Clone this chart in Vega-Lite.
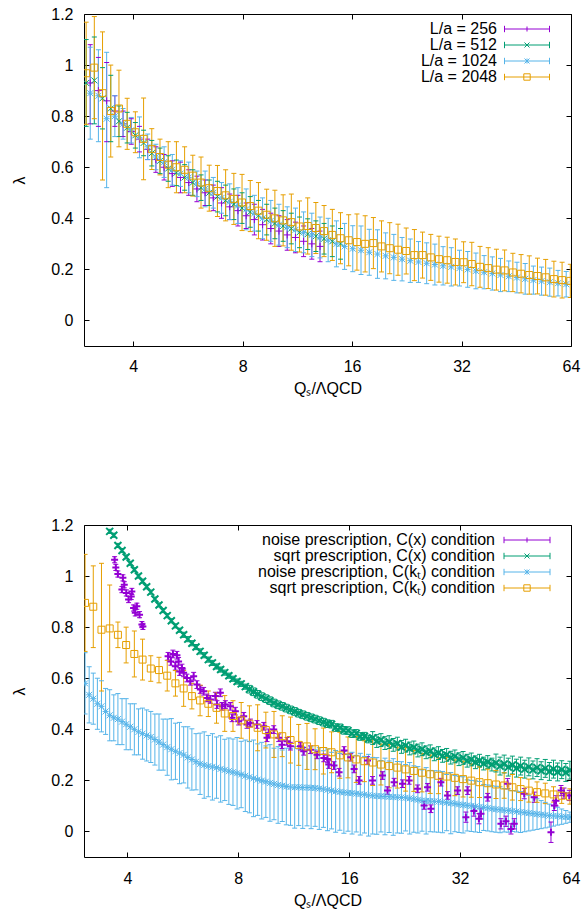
{
"$schema": "https://vega.github.io/schema/vega-lite/v6.json",
"padding": {"left": 11, "top": 5, "right": 0, "bottom": 0},
"config": {
 "font": "Liberation Sans",
 "view": {"stroke": "#000", "strokeWidth": 1},
 "axis": {"labelFontSize": 16, "titleFontSize": 16, "labelColor": "#000", "titleColor": "#000", "titleFontWeight": "normal", "tickColor": "#000", "tickSize": -5, "tickWidth": 1, "domain": false, "grid": false, "labelFlush": false, "labelFont": "Liberation Sans", "titleFont": "Liberation Sans"}
},
"datasets": {
"top": [
{"s":"a","q":3.048,"y":0.93,"l":0.77,"h":1.08},
{"s":"a","q":3.21,"y":0.9,"l":0.76,"h":1.03},
{"s":"a","q":3.382,"y":0.86,"l":0.7,"h":1.01},
{"s":"a","q":3.562,"y":0.82,"l":0.76,"h":0.88},
{"s":"a","q":3.752,"y":0.77,"l":0.72,"h":0.82},
{"s":"a","q":3.952,"y":0.74,"l":0.69,"h":0.79},
{"s":"a","q":4.163,"y":0.71,"l":0.66,"h":0.76},
{"s":"a","q":4.385,"y":0.67,"l":0.63,"h":0.71},
{"s":"a","q":4.619,"y":0.63,"l":0.58,"h":0.68},
{"s":"a","q":4.866,"y":0.6,"l":0.55,"h":0.65},
{"s":"a","q":5.125,"y":0.575,"l":0.525,"h":0.625},
{"s":"a","q":5.398,"y":0.56,"l":0.5,"h":0.62},
{"s":"a","q":5.687,"y":0.54,"l":0.49,"h":0.59},
{"s":"a","q":5.99,"y":0.515,"l":0.465,"h":0.565},
{"s":"a","q":6.309,"y":0.5,"l":0.45,"h":0.55},
{"s":"a","q":6.645,"y":0.48,"l":0.43,"h":0.53},
{"s":"a","q":7.0,"y":0.46,"l":0.4,"h":0.52},
{"s":"a","q":7.373,"y":0.445,"l":0.395,"h":0.495},
{"s":"a","q":7.767,"y":0.43,"l":0.37,"h":0.49},
{"s":"a","q":8.181,"y":0.41,"l":0.36,"h":0.46},
{"s":"a","q":8.617,"y":0.395,"l":0.335,"h":0.455},
{"s":"a","q":9.077,"y":0.375,"l":0.315,"h":0.435},
{"s":"a","q":9.561,"y":0.36,"l":0.3,"h":0.42},
{"s":"a","q":10.07,"y":0.35,"l":0.29,"h":0.41},
{"s":"a","q":10.61,"y":0.335,"l":0.275,"h":0.395},
{"s":"a","q":11.18,"y":0.325,"l":0.265,"h":0.385},
{"s":"a","q":11.77,"y":0.31,"l":0.25,"h":0.37},
{"s":"a","q":12.4,"y":0.3,"l":0.24,"h":0.36},
{"s":"a","q":13.06,"y":0.29,"l":0.23,"h":0.35},
{"s":"b","q":2.97,"y":0.93,"l":0.76,"h":1.1},
{"s":"b","q":3.128,"y":0.94,"l":0.77,"h":1.11},
{"s":"b","q":3.295,"y":0.87,"l":0.75,"h":0.99},
{"s":"b","q":3.471,"y":0.83,"l":0.7,"h":0.96},
{"s":"b","q":3.656,"y":0.78,"l":0.72,"h":0.84},
{"s":"b","q":3.851,"y":0.755,"l":0.695,"h":0.815},
{"s":"b","q":4.056,"y":0.725,"l":0.675,"h":0.775},
{"s":"b","q":4.273,"y":0.695,"l":0.645,"h":0.745},
{"s":"b","q":4.501,"y":0.655,"l":0.605,"h":0.705},
{"s":"b","q":4.741,"y":0.625,"l":0.575,"h":0.675},
{"s":"b","q":4.994,"y":0.595,"l":0.545,"h":0.645},
{"s":"b","q":5.26,"y":0.578,"l":0.528,"h":0.628},
{"s":"b","q":5.541,"y":0.56,"l":0.51,"h":0.61},
{"s":"b","q":5.836,"y":0.54,"l":0.49,"h":0.59},
{"s":"b","q":6.147,"y":0.52,"l":0.47,"h":0.57},
{"s":"b","q":6.475,"y":0.5,"l":0.45,"h":0.55},
{"s":"b","q":6.821,"y":0.485,"l":0.425,"h":0.545},
{"s":"b","q":7.184,"y":0.47,"l":0.41,"h":0.53},
{"s":"b","q":7.568,"y":0.455,"l":0.395,"h":0.515},
{"s":"b","q":7.971,"y":0.44,"l":0.38,"h":0.5},
{"s":"b","q":8.396,"y":0.425,"l":0.365,"h":0.485},
{"s":"b","q":8.844,"y":0.41,"l":0.35,"h":0.47},
{"s":"b","q":9.316,"y":0.395,"l":0.335,"h":0.455},
{"s":"b","q":9.813,"y":0.38,"l":0.32,"h":0.44},
{"s":"b","q":10.34,"y":0.37,"l":0.31,"h":0.43},
{"s":"b","q":10.89,"y":0.36,"l":0.3,"h":0.42},
{"s":"b","q":11.47,"y":0.345,"l":0.285,"h":0.405},
{"s":"b","q":12.08,"y":0.338,"l":0.278,"h":0.398},
{"s":"b","q":12.72,"y":0.33,"l":0.27,"h":0.39},
{"s":"b","q":13.4,"y":0.32,"l":0.26,"h":0.38},
{"s":"b","q":14.12,"y":0.31,"l":0.25,"h":0.37},
{"s":"b","q":14.87,"y":0.3,"l":0.24,"h":0.36},
{"s":"c","q":3.048,"y":0.89,"l":0.71,"h":1.07},
{"s":"c","q":3.21,"y":0.88,"l":0.7,"h":1.06},
{"s":"c","q":3.382,"y":0.79,"l":0.52,"h":1.05},
{"s":"c","q":3.562,"y":0.8,"l":0.72,"h":0.88},
{"s":"c","q":3.752,"y":0.77,"l":0.71,"h":0.83},
{"s":"c","q":3.952,"y":0.745,"l":0.695,"h":0.795},
{"s":"c","q":4.163,"y":0.717,"l":0.637,"h":0.797},
{"s":"c","q":4.385,"y":0.68,"l":0.63,"h":0.73},
{"s":"c","q":4.619,"y":0.64,"l":0.59,"h":0.69},
{"s":"c","q":4.866,"y":0.62,"l":0.56,"h":0.68},
{"s":"c","q":5.125,"y":0.59,"l":0.53,"h":0.65},
{"s":"c","q":5.398,"y":0.575,"l":0.525,"h":0.625},
{"s":"c","q":5.687,"y":0.56,"l":0.5,"h":0.62},
{"s":"c","q":5.99,"y":0.535,"l":0.485,"h":0.585},
{"s":"c","q":6.309,"y":0.515,"l":0.445,"h":0.585},
{"s":"c","q":6.645,"y":0.5,"l":0.44,"h":0.56},
{"s":"c","q":7.0,"y":0.48,"l":0.42,"h":0.54},
{"s":"c","q":7.373,"y":0.465,"l":0.395,"h":0.535},
{"s":"c","q":7.767,"y":0.45,"l":0.38,"h":0.52},
{"s":"c","q":8.181,"y":0.435,"l":0.355,"h":0.515},
{"s":"c","q":8.617,"y":0.42,"l":0.35,"h":0.49},
{"s":"c","q":9.077,"y":0.4,"l":0.32,"h":0.48},
{"s":"c","q":9.561,"y":0.39,"l":0.31,"h":0.47},
{"s":"c","q":10.07,"y":0.375,"l":0.295,"h":0.455},
{"s":"c","q":10.61,"y":0.365,"l":0.285,"h":0.445},
{"s":"c","q":11.18,"y":0.355,"l":0.27,"h":0.44},
{"s":"c","q":11.77,"y":0.345,"l":0.265,"h":0.425},
{"s":"c","q":12.4,"y":0.335,"l":0.25,"h":0.42},
{"s":"c","q":13.06,"y":0.325,"l":0.245,"h":0.405},
{"s":"c","q":13.75,"y":0.315,"l":0.23,"h":0.4},
{"s":"c","q":14.49,"y":0.3,"l":0.21,"h":0.39},
{"s":"c","q":15.26,"y":0.29,"l":0.2,"h":0.38},
{"s":"c","q":16.07,"y":0.281,"l":0.191,"h":0.371},
{"s":"c","q":16.93,"y":0.275,"l":0.18,"h":0.37},
{"s":"c","q":17.84,"y":0.267,"l":0.177,"h":0.357},
{"s":"c","q":18.79,"y":0.26,"l":0.165,"h":0.355},
{"s":"c","q":19.79,"y":0.253,"l":0.163,"h":0.343},
{"s":"c","q":20.84,"y":0.247,"l":0.157,"h":0.337},
{"s":"c","q":21.96,"y":0.24,"l":0.155,"h":0.325},
{"s":"c","q":23.13,"y":0.234,"l":0.149,"h":0.319},
{"s":"c","q":24.36,"y":0.229,"l":0.149,"h":0.309},
{"s":"c","q":25.66,"y":0.224,"l":0.144,"h":0.304},
{"s":"c","q":27.03,"y":0.219,"l":0.139,"h":0.299},
{"s":"c","q":28.47,"y":0.214,"l":0.139,"h":0.289},
{"s":"c","q":29.99,"y":0.21,"l":0.135,"h":0.285},
{"s":"c","q":31.59,"y":0.205,"l":0.135,"h":0.275},
{"s":"c","q":33.27,"y":0.2,"l":0.13,"h":0.27},
{"s":"c","q":35.05,"y":0.194,"l":0.124,"h":0.264},
{"s":"c","q":36.92,"y":0.189,"l":0.124,"h":0.254},
{"s":"c","q":38.89,"y":0.184,"l":0.119,"h":0.249},
{"s":"c","q":40.96,"y":0.178,"l":0.113,"h":0.243},
{"s":"c","q":43.15,"y":0.173,"l":0.113,"h":0.233},
{"s":"c","q":45.45,"y":0.168,"l":0.108,"h":0.228},
{"s":"c","q":47.88,"y":0.163,"l":0.103,"h":0.223},
{"s":"c","q":50.43,"y":0.158,"l":0.103,"h":0.213},
{"s":"c","q":53.12,"y":0.154,"l":0.099,"h":0.209},
{"s":"c","q":55.95,"y":0.15,"l":0.095,"h":0.205},
{"s":"c","q":58.94,"y":0.146,"l":0.096,"h":0.196},
{"s":"c","q":62.08,"y":0.142,"l":0.092,"h":0.192},
{"s":"d","q":2.97,"y":0.968,"l":0.768,"h":1.168},
{"s":"d","q":3.128,"y":0.99,"l":0.79,"h":1.19},
{"s":"d","q":3.295,"y":0.89,"l":0.55,"h":1.13},
{"s":"d","q":3.471,"y":0.82,"l":0.64,"h":1.0},
{"s":"d","q":3.656,"y":0.83,"l":0.68,"h":0.98},
{"s":"d","q":3.851,"y":0.77,"l":0.67,"h":0.87},
{"s":"d","q":4.056,"y":0.737,"l":0.657,"h":0.817},
{"s":"d","q":4.273,"y":0.711,"l":0.551,"h":0.871},
{"s":"d","q":4.501,"y":0.671,"l":0.591,"h":0.751},
{"s":"d","q":4.741,"y":0.64,"l":0.57,"h":0.71},
{"s":"d","q":4.994,"y":0.61,"l":0.52,"h":0.7},
{"s":"d","q":5.26,"y":0.6,"l":0.5,"h":0.7},
{"s":"d","q":5.541,"y":0.59,"l":0.5,"h":0.68},
{"s":"d","q":5.836,"y":0.567,"l":0.487,"h":0.647},
{"s":"d","q":6.147,"y":0.54,"l":0.44,"h":0.64},
{"s":"d","q":6.475,"y":0.518,"l":0.428,"h":0.608},
{"s":"d","q":6.821,"y":0.507,"l":0.407,"h":0.607},
{"s":"d","q":7.184,"y":0.49,"l":0.39,"h":0.59},
{"s":"d","q":7.568,"y":0.476,"l":0.376,"h":0.576},
{"s":"d","q":7.971,"y":0.462,"l":0.352,"h":0.572},
{"s":"d","q":8.396,"y":0.448,"l":0.348,"h":0.548},
{"s":"d","q":8.844,"y":0.43,"l":0.32,"h":0.54},
{"s":"d","q":9.316,"y":0.414,"l":0.314,"h":0.514},
{"s":"d","q":9.813,"y":0.4,"l":0.29,"h":0.51},
{"s":"d","q":10.34,"y":0.392,"l":0.292,"h":0.492},
{"s":"d","q":10.89,"y":0.385,"l":0.275,"h":0.495},
{"s":"d","q":11.47,"y":0.368,"l":0.268,"h":0.468},
{"s":"d","q":12.08,"y":0.37,"l":0.26,"h":0.48},
{"s":"d","q":12.72,"y":0.362,"l":0.262,"h":0.462},
{"s":"d","q":13.4,"y":0.35,"l":0.25,"h":0.45},
{"s":"d","q":14.12,"y":0.335,"l":0.235,"h":0.435},
{"s":"d","q":14.87,"y":0.322,"l":0.222,"h":0.422},
{"s":"d","q":15.66,"y":0.314,"l":0.214,"h":0.414},
{"s":"d","q":16.5,"y":0.307,"l":0.197,"h":0.417},
{"s":"d","q":17.38,"y":0.3,"l":0.19,"h":0.41},
{"s":"d","q":18.31,"y":0.303,"l":0.203,"h":0.403},
{"s":"d","q":19.28,"y":0.29,"l":0.19,"h":0.39},
{"s":"d","q":20.31,"y":0.283,"l":0.183,"h":0.383},
{"s":"d","q":21.4,"y":0.277,"l":0.177,"h":0.377},
{"s":"d","q":22.54,"y":0.272,"l":0.182,"h":0.362},
{"s":"d","q":23.74,"y":0.256,"l":0.156,"h":0.356},
{"s":"d","q":25.0,"y":0.256,"l":0.166,"h":0.346},
{"s":"d","q":26.34,"y":0.247,"l":0.157,"h":0.337},
{"s":"d","q":27.74,"y":0.24,"l":0.15,"h":0.33},
{"s":"d","q":29.22,"y":0.236,"l":0.146,"h":0.326},
{"s":"d","q":30.78,"y":0.229,"l":0.139,"h":0.319},
{"s":"d","q":32.42,"y":0.228,"l":0.148,"h":0.308},
{"s":"d","q":34.15,"y":0.221,"l":0.136,"h":0.306},
{"s":"d","q":35.97,"y":0.21,"l":0.13,"h":0.29},
{"s":"d","q":37.89,"y":0.205,"l":0.125,"h":0.285},
{"s":"d","q":39.91,"y":0.199,"l":0.119,"h":0.279},
{"s":"d","q":42.04,"y":0.196,"l":0.116,"h":0.276},
{"s":"d","q":44.29,"y":0.188,"l":0.113,"h":0.263},
{"s":"d","q":46.65,"y":0.183,"l":0.108,"h":0.258},
{"s":"d","q":49.14,"y":0.178,"l":0.103,"h":0.253},
{"s":"d","q":51.76,"y":0.174,"l":0.104,"h":0.244},
{"s":"d","q":54.52,"y":0.169,"l":0.099,"h":0.239},
{"s":"d","q":57.43,"y":0.162,"l":0.092,"h":0.232},
{"s":"d","q":60.49,"y":0.158,"l":0.088,"h":0.228},
{"s":"d","q":63.72,"y":0.155,"l":0.09,"h":0.22}
],
"bot": [
{"s":"e","q":3.693,"y":1.064,"l":1.052,"h":1.076},
{"s":"e","q":3.721,"y":1.034,"l":1.022,"h":1.046},
{"s":"e","q":3.769,"y":1.008,"l":0.996,"h":1.02},
{"s":"e","q":3.889,"y":0.993,"l":0.981,"h":1.005},
{"s":"e","q":3.923,"y":0.966,"l":0.954,"h":0.978},
{"s":"e","q":3.865,"y":0.947,"l":0.935,"h":0.959},
{"s":"e","q":3.973,"y":0.934,"l":0.922,"h":0.946},
{"s":"e","q":4.03,"y":0.908,"l":0.896,"h":0.92},
{"s":"e","q":4.113,"y":0.94,"l":0.928,"h":0.952},
{"s":"e","q":4.097,"y":0.92,"l":0.908,"h":0.932},
{"s":"e","q":4.158,"y":0.875,"l":0.863,"h":0.887},
{"s":"e","q":4.202,"y":0.856,"l":0.844,"h":0.868},
{"s":"e","q":4.244,"y":0.882,"l":0.87,"h":0.894},
{"s":"e","q":4.316,"y":0.849,"l":0.837,"h":0.861},
{"s":"e","q":4.38,"y":0.81,"l":0.798,"h":0.822},
{"s":"e","q":4.407,"y":0.803,"l":0.791,"h":0.815},
{"s":"e","q":5.158,"y":0.686,"l":0.671,"h":0.701},
{"s":"e","q":5.316,"y":0.695,"l":0.68,"h":0.71},
{"s":"e","q":5.452,"y":0.69,"l":0.675,"h":0.705},
{"s":"e","q":5.25,"y":0.666,"l":0.651,"h":0.681},
{"s":"e","q":5.508,"y":0.666,"l":0.651,"h":0.681},
{"s":"e","q":5.397,"y":0.647,"l":0.632,"h":0.662},
{"s":"e","q":5.625,"y":0.64,"l":0.625,"h":0.655},
{"s":"e","q":5.685,"y":0.621,"l":0.606,"h":0.636},
{"s":"e","q":5.545,"y":0.626,"l":0.611,"h":0.641},
{"s":"e","q":5.803,"y":0.601,"l":0.586,"h":0.616},
{"s":"e","q":5.928,"y":0.588,"l":0.573,"h":0.603},
{"s":"e","q":6.052,"y":0.608,"l":0.593,"h":0.623},
{"s":"e","q":6.178,"y":0.575,"l":0.56,"h":0.59},
{"s":"e","q":6.311,"y":0.556,"l":0.541,"h":0.571},
{"s":"e","q":6.442,"y":0.549,"l":0.534,"h":0.564},
{"s":"e","q":6.577,"y":0.523,"l":0.508,"h":0.538},
{"s":"e","q":6.718,"y":0.517,"l":0.502,"h":0.532},
{"s":"e","q":6.932,"y":0.53,"l":0.515,"h":0.545},
{"s":"e","q":7.152,"y":0.543,"l":0.528,"h":0.558},
{"s":"e","q":7.002,"y":0.497,"l":0.482,"h":0.512},
{"s":"e","q":7.224,"y":0.49,"l":0.475,"h":0.505},
{"s":"e","q":7.379,"y":0.497,"l":0.482,"h":0.512},
{"s":"e","q":7.614,"y":0.49,"l":0.475,"h":0.505},
{"s":"e","q":7.856,"y":0.471,"l":0.456,"h":0.486},
{"s":"e","q":7.691,"y":0.445,"l":0.43,"h":0.46},
{"s":"e","q":8.02,"y":0.432,"l":0.417,"h":0.447},
{"s":"e","q":8.275,"y":0.451,"l":0.436,"h":0.466},
{"s":"e","q":8.448,"y":0.419,"l":0.404,"h":0.434},
{"s":"e","q":8.629,"y":0.425,"l":0.41,"h":0.44},
{"s":"e","q":8.993,"y":0.419,"l":0.404,"h":0.434},
{"s":"e","q":9.378,"y":0.412,"l":0.397,"h":0.427},
{"s":"e","q":9.675,"y":0.386,"l":0.371,"h":0.401},
{"s":"e","q":9.573,"y":0.367,"l":0.352,"h":0.382},
{"s":"e","q":9.983,"y":0.399,"l":0.384,"h":0.414},
{"s":"e","q":10.3,"y":0.367,"l":0.352,"h":0.382},
{"s":"e","q":10.51,"y":0.34,"l":0.325,"h":0.355},
{"s":"e","q":10.85,"y":0.353,"l":0.338,"h":0.368},
{"s":"e","q":11.08,"y":0.334,"l":0.319,"h":0.349},
{"s":"e","q":11.8,"y":0.334,"l":0.319,"h":0.349},
{"s":"e","q":12.04,"y":0.314,"l":0.299,"h":0.329},
{"s":"e","q":12.56,"y":0.32,"l":0.305,"h":0.335},
{"s":"e","q":13.09,"y":0.3,"l":0.285,"h":0.315},
{"s":"e","q":13.65,"y":0.288,"l":0.273,"h":0.303},
{"s":"e","q":14.08,"y":0.262,"l":0.247,"h":0.277},
{"s":"e","q":13.97,"y":0.284,"l":0.269,"h":0.299},
{"s":"e","q":14.55,"y":0.258,"l":0.243,"h":0.273},
{"s":"e","q":15.02,"y":0.232,"l":0.217,"h":0.247},
{"s":"e","q":15.5,"y":0.317,"l":0.302,"h":0.332},
{"s":"e","q":16.16,"y":0.291,"l":0.276,"h":0.306},
{"s":"e","q":16.5,"y":0.245,"l":0.23,"h":0.26},
{"s":"e","q":17.02,"y":0.2,"l":0.185,"h":0.215},
{"s":"e","q":17.94,"y":0.278,"l":0.263,"h":0.293},
{"s":"e","q":18.51,"y":0.2,"l":0.185,"h":0.215},
{"s":"e","q":19.7,"y":0.219,"l":0.204,"h":0.234},
{"s":"e","q":20.33,"y":0.16,"l":0.145,"h":0.175},
{"s":"e","q":21.19,"y":0.193,"l":0.178,"h":0.208},
{"s":"e","q":22.33,"y":0.187,"l":0.172,"h":0.202},
{"s":"e","q":23.27,"y":0.2,"l":0.185,"h":0.215},
{"s":"e","q":24.53,"y":0.167,"l":0.152,"h":0.182},
{"s":"e","q":25.56,"y":0.102,"l":0.087,"h":0.117},
{"s":"e","q":26.66,"y":0.089,"l":0.074,"h":0.104},
{"s":"e","q":26.11,"y":0.173,"l":0.158,"h":0.188},
{"s":"e","q":28.38,"y":0.193,"l":0.178,"h":0.208},
{"s":"e","q":29.59,"y":0.141,"l":0.126,"h":0.156},
{"s":"e","q":31.5,"y":0.16,"l":0.145,"h":0.175},
{"s":"e","q":33.18,"y":0.056,"l":0.036,"h":0.076},
{"s":"e","q":33.54,"y":0.16,"l":0.145,"h":0.175},
{"s":"e","q":34.88,"y":0.08,"l":0.06,"h":0.1},
{"s":"e","q":36.0,"y":0.05,"l":0.03,"h":0.07},
{"s":"e","q":36.45,"y":0.069,"l":0.049,"h":0.089},
{"s":"e","q":38.01,"y":0.134,"l":0.119,"h":0.149},
{"s":"e","q":41.3,"y":0.03,"l":0.01,"h":0.05},
{"s":"e","q":42.62,"y":0.04,"l":0.02,"h":0.06},
{"s":"e","q":43.07,"y":0.187,"l":0.167,"h":0.207},
{"s":"e","q":43.97,"y":0.01,"l":-0.01,"h":0.03},
{"s":"e","q":44.89,"y":0.03,"l":0.01,"h":0.05},
{"s":"e","q":47.79,"y":0.148,"l":0.128,"h":0.168},
{"s":"e","q":50.87,"y":0.134,"l":0.114,"h":0.154},
{"s":"e","q":56.47,"y":-0.003,"l":-0.043,"h":0.037},
{"s":"e","q":57.66,"y":0.102,"l":0.082,"h":0.122},
{"s":"e","q":58.27,"y":0.12,"l":0.1,"h":0.14},
{"s":"e","q":60.12,"y":0.16,"l":0.14,"h":0.18},
{"s":"e","q":61.26,"y":0.15,"l":0.13,"h":0.17},
{"s":"e","q":63.32,"y":0.141,"l":0.121,"h":0.161},
{"s":"f","q":3.581,"y":1.175,"l":1.167,"h":1.183},
{"s":"f","q":3.674,"y":1.16,"l":1.152,"h":1.168},
{"s":"f","q":3.77,"y":1.12,"l":1.112,"h":1.128},
{"s":"f","q":3.868,"y":1.1,"l":1.092,"h":1.108},
{"s":"f","q":3.969,"y":1.075,"l":1.067,"h":1.083},
{"s":"f","q":4.072,"y":1.05,"l":1.042,"h":1.058},
{"s":"f","q":4.178,"y":1.025,"l":1.017,"h":1.033},
{"s":"f","q":4.287,"y":1.0,"l":0.992,"h":1.008},
{"s":"f","q":4.398,"y":0.98,"l":0.972,"h":0.988},
{"s":"f","q":4.512,"y":0.958,"l":0.95,"h":0.966},
{"s":"f","q":4.63,"y":0.937,"l":0.929,"h":0.945},
{"s":"f","q":4.75,"y":0.91,"l":0.902,"h":0.918},
{"s":"f","q":4.874,"y":0.887,"l":0.879,"h":0.895},
{"s":"f","q":5.001,"y":0.865,"l":0.857,"h":0.873},
{"s":"f","q":5.131,"y":0.845,"l":0.837,"h":0.853},
{"s":"f","q":5.264,"y":0.825,"l":0.817,"h":0.833},
{"s":"f","q":5.401,"y":0.805,"l":0.797,"h":0.813},
{"s":"f","q":5.541,"y":0.788,"l":0.78,"h":0.796},
{"s":"f","q":5.686,"y":0.77,"l":0.76,"h":0.78},
{"s":"f","q":5.834,"y":0.753,"l":0.743,"h":0.763},
{"s":"f","q":5.986,"y":0.737,"l":0.727,"h":0.747},
{"s":"f","q":6.142,"y":0.722,"l":0.712,"h":0.732},
{"s":"f","q":6.301,"y":0.705,"l":0.695,"h":0.715},
{"s":"f","q":6.465,"y":0.69,"l":0.68,"h":0.7},
{"s":"f","q":6.633,"y":0.673,"l":0.663,"h":0.683},
{"s":"f","q":6.806,"y":0.66,"l":0.65,"h":0.67},
{"s":"f","q":6.983,"y":0.646,"l":0.636,"h":0.656},
{"s":"f","q":7.164,"y":0.634,"l":0.624,"h":0.644},
{"s":"f","q":7.351,"y":0.622,"l":0.612,"h":0.632},
{"s":"f","q":7.542,"y":0.61,"l":0.6,"h":0.62},
{"s":"f","q":7.739,"y":0.598,"l":0.588,"h":0.608},
{"s":"f","q":7.94,"y":0.587,"l":0.577,"h":0.597},
{"s":"f","q":8.146,"y":0.578,"l":0.568,"h":0.588},
{"s":"f","q":8.358,"y":0.567,"l":0.557,"h":0.577},
{"s":"f","q":8.576,"y":0.557,"l":0.542,"h":0.572},
{"s":"f","q":8.799,"y":0.547,"l":0.532,"h":0.562},
{"s":"f","q":9.028,"y":0.537,"l":0.522,"h":0.552},
{"s":"f","q":9.263,"y":0.528,"l":0.513,"h":0.543},
{"s":"f","q":9.504,"y":0.52,"l":0.505,"h":0.535},
{"s":"f","q":9.751,"y":0.512,"l":0.497,"h":0.527},
{"s":"f","q":10.0,"y":0.503,"l":0.488,"h":0.518},
{"s":"f","q":10.26,"y":0.496,"l":0.481,"h":0.511},
{"s":"f","q":10.53,"y":0.49,"l":0.475,"h":0.505},
{"s":"f","q":10.8,"y":0.483,"l":0.468,"h":0.498},
{"s":"f","q":11.09,"y":0.476,"l":0.461,"h":0.491},
{"s":"f","q":11.38,"y":0.47,"l":0.455,"h":0.485},
{"s":"f","q":11.67,"y":0.463,"l":0.448,"h":0.478},
{"s":"f","q":11.97,"y":0.457,"l":0.442,"h":0.472},
{"s":"f","q":12.29,"y":0.451,"l":0.436,"h":0.466},
{"s":"f","q":12.61,"y":0.445,"l":0.43,"h":0.46},
{"s":"f","q":12.93,"y":0.44,"l":0.425,"h":0.455},
{"s":"f","q":13.27,"y":0.434,"l":0.419,"h":0.449},
{"s":"f","q":13.62,"y":0.428,"l":0.413,"h":0.443},
{"s":"f","q":13.97,"y":0.422,"l":0.407,"h":0.437},
{"s":"f","q":14.33,"y":0.42,"l":0.405,"h":0.435},
{"s":"f","q":14.7,"y":0.407,"l":0.392,"h":0.422},
{"s":"f","q":15.09,"y":0.406,"l":0.391,"h":0.421},
{"s":"f","q":15.48,"y":0.396,"l":0.381,"h":0.411},
{"s":"f","q":15.88,"y":0.395,"l":0.38,"h":0.41},
{"s":"f","q":16.29,"y":0.383,"l":0.368,"h":0.398},
{"s":"f","q":16.72,"y":0.384,"l":0.369,"h":0.399},
{"s":"f","q":17.15,"y":0.372,"l":0.357,"h":0.387},
{"s":"f","q":17.6,"y":0.373,"l":0.358,"h":0.388},
{"s":"f","q":18.06,"y":0.362,"l":0.347,"h":0.377},
{"s":"f","q":18.53,"y":0.366,"l":0.341,"h":0.391},
{"s":"f","q":19.01,"y":0.354,"l":0.329,"h":0.379},
{"s":"f","q":19.51,"y":0.358,"l":0.333,"h":0.383},
{"s":"f","q":20.01,"y":0.346,"l":0.321,"h":0.371},
{"s":"f","q":20.54,"y":0.35,"l":0.325,"h":0.375},
{"s":"f","q":21.07,"y":0.339,"l":0.314,"h":0.364},
{"s":"f","q":21.62,"y":0.344,"l":0.319,"h":0.369},
{"s":"f","q":22.18,"y":0.331,"l":0.306,"h":0.356},
{"s":"f","q":22.76,"y":0.336,"l":0.311,"h":0.361},
{"s":"f","q":23.35,"y":0.325,"l":0.3,"h":0.35},
{"s":"f","q":23.96,"y":0.329,"l":0.304,"h":0.354},
{"s":"f","q":24.58,"y":0.317,"l":0.292,"h":0.342},
{"s":"f","q":25.22,"y":0.322,"l":0.297,"h":0.347},
{"s":"f","q":25.88,"y":0.31,"l":0.285,"h":0.335},
{"s":"f","q":26.55,"y":0.314,"l":0.289,"h":0.339},
{"s":"f","q":27.24,"y":0.302,"l":0.277,"h":0.327},
{"s":"f","q":27.95,"y":0.307,"l":0.282,"h":0.332},
{"s":"f","q":28.68,"y":0.296,"l":0.271,"h":0.321},
{"s":"f","q":29.42,"y":0.3,"l":0.275,"h":0.325},
{"s":"f","q":30.19,"y":0.289,"l":0.264,"h":0.314},
{"s":"f","q":30.97,"y":0.294,"l":0.269,"h":0.319},
{"s":"f","q":31.78,"y":0.283,"l":0.258,"h":0.308},
{"s":"f","q":32.6,"y":0.288,"l":0.263,"h":0.313},
{"s":"f","q":33.45,"y":0.277,"l":0.252,"h":0.302},
{"s":"f","q":34.32,"y":0.282,"l":0.257,"h":0.307},
{"s":"f","q":35.21,"y":0.271,"l":0.246,"h":0.296},
{"s":"f","q":36.13,"y":0.277,"l":0.252,"h":0.302},
{"s":"f","q":37.07,"y":0.266,"l":0.241,"h":0.291},
{"s":"f","q":38.04,"y":0.272,"l":0.247,"h":0.297},
{"s":"f","q":39.03,"y":0.262,"l":0.237,"h":0.287},
{"s":"f","q":40.04,"y":0.268,"l":0.233,"h":0.303},
{"s":"f","q":41.08,"y":0.256,"l":0.221,"h":0.291},
{"s":"f","q":42.15,"y":0.264,"l":0.229,"h":0.299},
{"s":"f","q":43.25,"y":0.252,"l":0.217,"h":0.287},
{"s":"f","q":44.37,"y":0.26,"l":0.225,"h":0.295},
{"s":"f","q":45.53,"y":0.248,"l":0.213,"h":0.283},
{"s":"f","q":46.71,"y":0.256,"l":0.221,"h":0.291},
{"s":"f","q":47.93,"y":0.244,"l":0.209,"h":0.279},
{"s":"f","q":49.17,"y":0.253,"l":0.218,"h":0.288},
{"s":"f","q":50.45,"y":0.241,"l":0.206,"h":0.276},
{"s":"f","q":51.76,"y":0.25,"l":0.215,"h":0.285},
{"s":"f","q":53.11,"y":0.238,"l":0.203,"h":0.273},
{"s":"f","q":54.49,"y":0.247,"l":0.212,"h":0.282},
{"s":"f","q":55.91,"y":0.235,"l":0.2,"h":0.27},
{"s":"f","q":57.37,"y":0.244,"l":0.209,"h":0.279},
{"s":"f","q":58.86,"y":0.233,"l":0.198,"h":0.268},
{"s":"f","q":60.39,"y":0.242,"l":0.207,"h":0.277},
{"s":"f","q":61.96,"y":0.231,"l":0.196,"h":0.266},
{"s":"f","q":63.57,"y":0.24,"l":0.205,"h":0.275},
{"s":"g","q":3.07,"y":0.58,"l":0.46,"h":0.7},
{"s":"g","q":3.15,"y":0.535,"l":0.425,"h":0.645},
{"s":"g","q":3.232,"y":0.52,"l":0.42,"h":0.62},
{"s":"g","q":3.316,"y":0.5,"l":0.4,"h":0.6},
{"s":"g","q":3.402,"y":0.49,"l":0.39,"h":0.59},
{"s":"g","q":3.491,"y":0.47,"l":0.38,"h":0.56},
{"s":"g","q":3.581,"y":0.455,"l":0.355,"h":0.555},
{"s":"g","q":3.674,"y":0.445,"l":0.355,"h":0.535},
{"s":"g","q":3.77,"y":0.44,"l":0.34,"h":0.54},
{"s":"g","q":3.868,"y":0.43,"l":0.34,"h":0.52},
{"s":"g","q":3.969,"y":0.42,"l":0.32,"h":0.52},
{"s":"g","q":4.072,"y":0.41,"l":0.32,"h":0.5},
{"s":"g","q":4.178,"y":0.4,"l":0.3,"h":0.5},
{"s":"g","q":4.287,"y":0.39,"l":0.3,"h":0.48},
{"s":"g","q":4.398,"y":0.383,"l":0.283,"h":0.483},
{"s":"g","q":4.512,"y":0.376,"l":0.276,"h":0.476},
{"s":"g","q":4.63,"y":0.37,"l":0.27,"h":0.47},
{"s":"g","q":4.75,"y":0.36,"l":0.26,"h":0.46},
{"s":"g","q":4.874,"y":0.35,"l":0.24,"h":0.46},
{"s":"g","q":5.001,"y":0.34,"l":0.24,"h":0.44},
{"s":"g","q":5.131,"y":0.33,"l":0.22,"h":0.44},
{"s":"g","q":5.264,"y":0.322,"l":0.202,"h":0.442},
{"s":"g","q":5.401,"y":0.314,"l":0.204,"h":0.424},
{"s":"g","q":5.541,"y":0.307,"l":0.187,"h":0.427},
{"s":"g","q":5.686,"y":0.3,"l":0.19,"h":0.41},
{"s":"g","q":5.834,"y":0.29,"l":0.17,"h":0.41},
{"s":"g","q":5.986,"y":0.282,"l":0.162,"h":0.402},
{"s":"g","q":6.142,"y":0.273,"l":0.163,"h":0.383},
{"s":"g","q":6.301,"y":0.265,"l":0.145,"h":0.385},
{"s":"g","q":6.465,"y":0.26,"l":0.13,"h":0.39},
{"s":"g","q":6.633,"y":0.256,"l":0.136,"h":0.376},
{"s":"g","q":6.806,"y":0.253,"l":0.123,"h":0.383},
{"s":"g","q":6.983,"y":0.25,"l":0.13,"h":0.37},
{"s":"g","q":7.164,"y":0.245,"l":0.115,"h":0.375},
{"s":"g","q":7.351,"y":0.241,"l":0.121,"h":0.361},
{"s":"g","q":7.542,"y":0.236,"l":0.106,"h":0.366},
{"s":"g","q":7.739,"y":0.232,"l":0.102,"h":0.362},
{"s":"g","q":7.94,"y":0.228,"l":0.088,"h":0.368},
{"s":"g","q":8.146,"y":0.223,"l":0.093,"h":0.353},
{"s":"g","q":8.358,"y":0.218,"l":0.078,"h":0.358},
{"s":"g","q":8.576,"y":0.213,"l":0.073,"h":0.353},
{"s":"g","q":8.799,"y":0.208,"l":0.058,"h":0.358},
{"s":"g","q":9.028,"y":0.203,"l":0.063,"h":0.343},
{"s":"g","q":9.263,"y":0.199,"l":0.049,"h":0.349},
{"s":"g","q":9.504,"y":0.195,"l":0.055,"h":0.335},
{"s":"g","q":9.751,"y":0.19,"l":0.04,"h":0.34},
{"s":"g","q":10.0,"y":0.186,"l":0.046,"h":0.326},
{"s":"g","q":10.26,"y":0.182,"l":0.032,"h":0.332},
{"s":"g","q":10.53,"y":0.179,"l":0.039,"h":0.319},
{"s":"g","q":10.8,"y":0.176,"l":0.026,"h":0.326},
{"s":"g","q":11.09,"y":0.174,"l":0.024,"h":0.324},
{"s":"g","q":11.38,"y":0.173,"l":0.013,"h":0.333},
{"s":"g","q":11.67,"y":0.173,"l":0.023,"h":0.323},
{"s":"g","q":11.97,"y":0.172,"l":0.012,"h":0.332},
{"s":"g","q":12.29,"y":0.172,"l":0.022,"h":0.322},
{"s":"g","q":12.61,"y":0.171,"l":0.011,"h":0.331},
{"s":"g","q":12.93,"y":0.17,"l":0.02,"h":0.32},
{"s":"g","q":13.27,"y":0.168,"l":0.008,"h":0.328},
{"s":"g","q":13.62,"y":0.166,"l":0.016,"h":0.316},
{"s":"g","q":13.97,"y":0.163,"l":0.003,"h":0.323},
{"s":"g","q":14.33,"y":0.16,"l":0.01,"h":0.31},
{"s":"g","q":14.7,"y":0.157,"l":-0.003,"h":0.317},
{"s":"g","q":15.09,"y":0.155,"l":0.005,"h":0.305},
{"s":"g","q":15.48,"y":0.153,"l":-0.007,"h":0.313},
{"s":"g","q":15.88,"y":0.151,"l":0.001,"h":0.301},
{"s":"g","q":16.29,"y":0.15,"l":-0.01,"h":0.31},
{"s":"g","q":16.72,"y":0.148,"l":-0.002,"h":0.298},
{"s":"g","q":17.15,"y":0.146,"l":-0.014,"h":0.306},
{"s":"g","q":17.6,"y":0.144,"l":-0.006,"h":0.294},
{"s":"g","q":18.06,"y":0.142,"l":-0.018,"h":0.302},
{"s":"g","q":18.53,"y":0.14,"l":-0.01,"h":0.29},
{"s":"g","q":19.01,"y":0.139,"l":-0.011,"h":0.289},
{"s":"g","q":19.51,"y":0.138,"l":-0.002,"h":0.278},
{"s":"g","q":20.01,"y":0.137,"l":-0.013,"h":0.287},
{"s":"g","q":20.54,"y":0.136,"l":-0.004,"h":0.276},
{"s":"g","q":21.07,"y":0.135,"l":-0.015,"h":0.285},
{"s":"g","q":21.62,"y":0.134,"l":-0.006,"h":0.274},
{"s":"g","q":22.18,"y":0.133,"l":-0.007,"h":0.273},
{"s":"g","q":22.76,"y":0.132,"l":0.002,"h":0.262},
{"s":"g","q":23.35,"y":0.13,"l":-0.01,"h":0.27},
{"s":"g","q":23.96,"y":0.127,"l":-0.003,"h":0.257},
{"s":"g","q":24.58,"y":0.124,"l":-0.006,"h":0.254},
{"s":"g","q":25.22,"y":0.121,"l":0.001,"h":0.241},
{"s":"g","q":25.88,"y":0.12,"l":-0.01,"h":0.25},
{"s":"g","q":26.55,"y":0.119,"l":-0.001,"h":0.239},
{"s":"g","q":27.24,"y":0.118,"l":-0.002,"h":0.238},
{"s":"g","q":27.95,"y":0.117,"l":-0.003,"h":0.237},
{"s":"g","q":28.68,"y":0.115,"l":-0.005,"h":0.235},
{"s":"g","q":29.42,"y":0.113,"l":0.003,"h":0.223},
{"s":"g","q":30.19,"y":0.111,"l":-0.009,"h":0.231},
{"s":"g","q":30.97,"y":0.109,"l":-0.001,"h":0.219},
{"s":"g","q":31.78,"y":0.106,"l":-0.004,"h":0.216},
{"s":"g","q":32.6,"y":0.104,"l":-0.006,"h":0.214},
{"s":"g","q":33.45,"y":0.102,"l":0.002,"h":0.202},
{"s":"g","q":34.32,"y":0.1,"l":0.0,"h":0.2},
{"s":"g","q":35.21,"y":0.098,"l":-0.002,"h":0.198},
{"s":"g","q":36.13,"y":0.096,"l":-0.004,"h":0.196},
{"s":"g","q":37.07,"y":0.094,"l":0.004,"h":0.184},
{"s":"g","q":38.04,"y":0.092,"l":0.002,"h":0.182},
{"s":"g","q":39.03,"y":0.089,"l":-0.001,"h":0.179},
{"s":"g","q":40.04,"y":0.087,"l":-0.003,"h":0.177},
{"s":"g","q":41.08,"y":0.085,"l":-0.005,"h":0.175},
{"s":"g","q":42.15,"y":0.083,"l":-0.002,"h":0.168},
{"s":"g","q":43.25,"y":0.082,"l":-0.003,"h":0.167},
{"s":"g","q":44.37,"y":0.08,"l":0.0,"h":0.16},
{"s":"g","q":45.53,"y":0.078,"l":-0.002,"h":0.158},
{"s":"g","q":46.71,"y":0.076,"l":-0.004,"h":0.156},
{"s":"g","q":47.93,"y":0.074,"l":-0.001,"h":0.149},
{"s":"g","q":49.17,"y":0.072,"l":0.002,"h":0.142},
{"s":"g","q":50.45,"y":0.07,"l":0.005,"h":0.135},
{"s":"g","q":51.76,"y":0.068,"l":0.008,"h":0.128},
{"s":"g","q":53.11,"y":0.066,"l":0.011,"h":0.121},
{"s":"g","q":54.49,"y":0.064,"l":0.014,"h":0.114},
{"s":"g","q":55.91,"y":0.062,"l":0.017,"h":0.107},
{"s":"g","q":57.37,"y":0.061,"l":0.021,"h":0.101},
{"s":"g","q":58.86,"y":0.06,"l":0.025,"h":0.095},
{"s":"g","q":60.39,"y":0.058,"l":0.028,"h":0.088},
{"s":"g","q":61.96,"y":0.057,"l":0.032,"h":0.082},
{"s":"g","q":63.57,"y":0.056,"l":0.036,"h":0.076},
{"s":"h","q":3.07,"y":0.895,"l":0.705,"h":1.085},
{"s":"h","q":3.232,"y":0.88,"l":0.72,"h":1.04},
{"s":"h","q":3.402,"y":0.79,"l":0.55,"h":1.05},
{"s":"h","q":3.581,"y":0.795,"l":0.625,"h":0.965},
{"s":"h","q":3.77,"y":0.77,"l":0.72,"h":0.82},
{"s":"h","q":3.969,"y":0.73,"l":0.66,"h":0.8},
{"s":"h","q":4.178,"y":0.695,"l":0.605,"h":0.785},
{"s":"h","q":4.398,"y":0.673,"l":0.593,"h":0.753},
{"s":"h","q":4.63,"y":0.638,"l":0.588,"h":0.688},
{"s":"h","q":4.874,"y":0.632,"l":0.582,"h":0.682},
{"s":"h","q":5.131,"y":0.61,"l":0.55,"h":0.67},
{"s":"h","q":5.401,"y":0.58,"l":0.53,"h":0.63},
{"s":"h","q":5.686,"y":0.56,"l":0.49,"h":0.63},
{"s":"h","q":5.986,"y":0.53,"l":0.48,"h":0.58},
{"s":"h","q":6.301,"y":0.513,"l":0.453,"h":0.573},
{"s":"h","q":6.633,"y":0.5,"l":0.45,"h":0.55},
{"s":"h","q":6.983,"y":0.484,"l":0.424,"h":0.544},
{"s":"h","q":7.351,"y":0.462,"l":0.392,"h":0.532},
{"s":"h","q":7.739,"y":0.452,"l":0.392,"h":0.512},
{"s":"h","q":8.146,"y":0.435,"l":0.365,"h":0.505},
{"s":"h","q":8.576,"y":0.422,"l":0.352,"h":0.492},
{"s":"h","q":9.028,"y":0.406,"l":0.316,"h":0.496},
{"s":"h","q":9.504,"y":0.397,"l":0.327,"h":0.467},
{"s":"h","q":10.0,"y":0.38,"l":0.29,"h":0.47},
{"s":"h","q":10.53,"y":0.373,"l":0.293,"h":0.453},
{"s":"h","q":11.09,"y":0.358,"l":0.268,"h":0.448},
{"s":"h","q":11.67,"y":0.339,"l":0.259,"h":0.419},
{"s":"h","q":12.29,"y":0.333,"l":0.243,"h":0.423},
{"s":"h","q":12.93,"y":0.322,"l":0.242,"h":0.402},
{"s":"h","q":13.62,"y":0.315,"l":0.225,"h":0.405},
{"s":"h","q":14.33,"y":0.31,"l":0.23,"h":0.39},
{"s":"h","q":15.09,"y":0.298,"l":0.208,"h":0.388},
{"s":"h","q":15.88,"y":0.29,"l":0.21,"h":0.37},
{"s":"h","q":16.72,"y":0.282,"l":0.192,"h":0.372},
{"s":"h","q":17.6,"y":0.275,"l":0.195,"h":0.355},
{"s":"h","q":18.53,"y":0.27,"l":0.18,"h":0.36},
{"s":"h","q":19.51,"y":0.262,"l":0.182,"h":0.342},
{"s":"h","q":20.54,"y":0.256,"l":0.171,"h":0.341},
{"s":"h","q":21.62,"y":0.25,"l":0.17,"h":0.33},
{"s":"h","q":22.76,"y":0.243,"l":0.158,"h":0.328},
{"s":"h","q":23.96,"y":0.237,"l":0.157,"h":0.317},
{"s":"h","q":25.22,"y":0.23,"l":0.155,"h":0.305},
{"s":"h","q":26.55,"y":0.224,"l":0.149,"h":0.299},
{"s":"h","q":27.95,"y":0.218,"l":0.148,"h":0.288},
{"s":"h","q":29.42,"y":0.215,"l":0.14,"h":0.29},
{"s":"h","q":30.97,"y":0.21,"l":0.14,"h":0.28},
{"s":"h","q":32.6,"y":0.205,"l":0.135,"h":0.275},
{"s":"h","q":34.32,"y":0.199,"l":0.134,"h":0.264},
{"s":"h","q":36.13,"y":0.193,"l":0.133,"h":0.253},
{"s":"h","q":38.04,"y":0.189,"l":0.134,"h":0.244},
{"s":"h","q":40.04,"y":0.184,"l":0.129,"h":0.239},
{"s":"h","q":42.15,"y":0.18,"l":0.13,"h":0.23},
{"s":"h","q":44.37,"y":0.173,"l":0.123,"h":0.223},
{"s":"h","q":46.71,"y":0.166,"l":0.121,"h":0.211},
{"s":"h","q":49.17,"y":0.16,"l":0.115,"h":0.205},
{"s":"h","q":51.76,"y":0.154,"l":0.114,"h":0.194},
{"s":"h","q":54.49,"y":0.149,"l":0.109,"h":0.189},
{"s":"h","q":57.37,"y":0.145,"l":0.115,"h":0.175},
{"s":"h","q":60.39,"y":0.14,"l":0.11,"h":0.17},
{"s":"h","q":63.57,"y":0.137,"l":0.107,"h":0.167}
]
},
"vconcat": [
{
 "width": 487, "height": 332,
 "data": {"name": "top"},
 "layer": [
  {"mark": {"type": "rule", "clip": true, "strokeWidth": 1},
   "encoding": {
    "x": {"field": "q", "type": "quantitative", "scale": {"type": "log", "base": 2, "domain": [2.93, 64], "nice": false, "zero": false}, "axis": {"orient": "bottom", "values": [4, 8, 16, 32, 64], "format": "d", "title": "Qₛ/ΛQCD", "labelPadding": 17, "titlePadding": 6}},
    "y": {"field": "l", "type": "quantitative", "scale": {"domain": [-0.1, 1.2], "nice": false, "zero": false}, "axis": {"orient": "left", "values": [0, 0.2, 0.4, 0.6, 0.8, 1, 1.2], "format": "~g", "title": "λ", "labelPadding": 16, "titlePadding": 23}},
    "y2": {"field": "h"},
    "color": {"field": "s", "type": "nominal", "scale": {"domain": ["a", "b", "c", "d"], "range": ["#9400D3", "#009E73", "#56B4E9", "#E69F00"]},
     "legend": {"title": null, "orient": "none", "legendX": 435, "legendY": 7, "direction": "vertical", "labelAlign": "right", "labelOffset": -38, "labelFontSize": 16, "labelColor": "#000", "labelLimit": 500, "symbolSize": 16, "rowPadding": 0, "padding": 0,
      "labelExpr": "datum.value=='a'?'L/a = 256':datum.value=='b'?'L/a = 512':datum.value=='c'?'L/a = 1024':'L/a = 2048'",
      "encode": {"symbols": {"update": {"shape": {"signal": "['M-11.25,0H11.25M-11.25,-1.6V1.6M11.25,-1.6V1.6M0,-1.25V1.25','M-11.25,0H11.25M-11.25,-1.6V1.6M11.25,-1.6V1.6M-1.25,-1.25L1.25,1.25M-1.25,1.25L1.25,-1.25','M-11.25,0H11.25M-11.25,-1.6V1.6M11.25,-1.6V1.6M0,-1.25V1.25M-1.25,-1.25L1.25,1.25M-1.25,1.25L1.25,-1.25','M-11.25,0H11.25M-11.25,-1.6V1.6M11.25,-1.6V1.6M-1.6,-1.6H1.6M1.6,-1.6V1.6M1.6,1.6H-1.6M-1.6,1.6V-1.6'][datum.index]"}, "fill": {"value": "transparent"}, "strokeWidth": {"value": 1}, "opacity": {"value": 1}, "size": {"value": 16}}}}}}
   }},
  {"mark": {"type": "tick", "orient": "horizontal", "size": 5, "thickness": 1, "clip": true, "opacity": 1},
   "encoding": {"x": {"field": "q", "type": "quantitative", "axis": null}, "y": {"field": "l", "type": "quantitative", "axis": null}, "color": {"field": "s", "type": "nominal"}}},
  {"mark": {"type": "tick", "orient": "horizontal", "size": 5, "thickness": 1, "clip": true, "opacity": 1},
   "encoding": {"x": {"field": "q", "type": "quantitative", "axis": null}, "y": {"field": "h", "type": "quantitative", "axis": null}, "color": {"field": "s", "type": "nominal"}}},
  {"transform": [{"filter": "datum.s=='a'"}], "mark": {"type": "point", "shape": "M-1,0H1M0,-1V1", "filled": false, "size": 49, "strokeWidth": 1, "opacity": 1, "clip": true},
   "encoding": {"x": {"field": "q", "type": "quantitative", "axis": null}, "y": {"field": "y", "type": "quantitative", "axis": null}, "color": {"field": "s", "type": "nominal"}}},
  {"transform": [{"filter": "datum.s=='b'"}], "mark": {"type": "point", "shape": "M-1,-1L1,1M-1,1L1,-1", "filled": false, "size": 36, "strokeWidth": 1, "opacity": 1, "clip": true},
   "encoding": {"x": {"field": "q", "type": "quantitative", "axis": null}, "y": {"field": "y", "type": "quantitative", "axis": null}, "color": {"field": "s", "type": "nominal"}}},
  {"transform": [{"filter": "datum.s=='c'"}], "mark": {"type": "point", "shape": "M-1,0H1M0,-1V1M-1,-1L1,1M-1,1L1,-1", "filled": false, "size": 36, "strokeWidth": 1, "opacity": 1, "clip": true},
   "encoding": {"x": {"field": "q", "type": "quantitative", "axis": null}, "y": {"field": "y", "type": "quantitative", "axis": null}, "color": {"field": "s", "type": "nominal"}}},
  {"transform": [{"filter": "datum.s=='d'"}], "mark": {"type": "point", "shape": "square", "filled": false, "size": 49, "strokeWidth": 1, "opacity": 1, "clip": true},
   "encoding": {"x": {"field": "q", "type": "quantitative", "axis": null}, "y": {"field": "y", "type": "quantitative", "axis": null}, "color": {"field": "s", "type": "nominal"}}},
  {"mark": {"type": "point", "opacity": 0},
   "encoding": {"x": {"field": "q", "type": "quantitative", "axis": {"orient": "top", "values": [4, 8, 16, 32, 64], "labels": false, "title": null}}, "y": {"field": "y", "type": "quantitative", "axis": {"orient": "right", "values": [0, 0.2, 0.4, 0.6, 0.8, 1, 1.2], "labels": false, "title": null}}}}
 ],
 "resolve": {"axis": {"x": "independent", "y": "independent"}}
},
{
 "width": 487, "height": 332,
 "data": {"name": "bot"},
 "layer": [
  {"mark": {"type": "rule", "clip": true, "strokeWidth": 1},
   "encoding": {
    "x": {"field": "q", "type": "quantitative", "scale": {"type": "log", "base": 2, "domain": [3.05, 64], "nice": false, "zero": false}, "axis": {"orient": "bottom", "values": [4, 8, 16, 32, 64], "format": "d", "title": "Qₛ/ΛQCD", "labelPadding": 18, "titlePadding": 6}},
    "y": {"field": "l", "type": "quantitative", "scale": {"domain": [-0.1, 1.2], "nice": false, "zero": false}, "axis": {"orient": "left", "values": [0, 0.2, 0.4, 0.6, 0.8, 1, 1.2], "format": "~g", "title": "λ", "labelPadding": 16, "titlePadding": 23}},
    "y2": {"field": "h"},
    "color": {"field": "s", "type": "nominal", "scale": {"domain": ["e", "f", "g", "h"], "range": ["#9400D3", "#009E73", "#56B4E9", "#E69F00"]},
     "legend": {"title": null, "orient": "none", "legendX": 435, "legendY": 7, "direction": "vertical", "labelAlign": "right", "labelOffset": -40, "labelFontSize": 16, "labelColor": "#000", "labelLimit": 500, "symbolSize": 16, "rowPadding": 0, "padding": 0,
      "labelExpr": "datum.value=='e'?'noise prescription, C(x) condition':datum.value=='f'?'sqrt prescription, C(x) condition':datum.value=='g'?'noise prescription, C(kₜ) condition':'sqrt prescription, C(kₜ) condition'",
      "encode": {"symbols": {"update": {"shape": {"signal": "['M-11.5,0H11.5M-11.5,-1.6V1.6M11.5,-1.6V1.6M0,-1.25V1.25','M-11.5,0H11.5M-11.5,-1.6V1.6M11.5,-1.6V1.6M-1.25,-1.25L1.25,1.25M-1.25,1.25L1.25,-1.25','M-11.5,0H11.5M-11.5,-1.6V1.6M11.5,-1.6V1.6M0,-1.25V1.25M-1.25,-1.25L1.25,1.25M-1.25,1.25L1.25,-1.25','M-11.5,0H11.5M-11.5,-1.6V1.6M11.5,-1.6V1.6M-1.6,-1.6H1.6M1.6,-1.6V1.6M1.6,1.6H-1.6M-1.6,1.6V-1.6'][datum.index]"}, "fill": {"value": "transparent"}, "strokeWidth": {"value": 1}, "opacity": {"value": 1}, "size": {"value": 16}}}}}}
   }},
  {"mark": {"type": "tick", "orient": "horizontal", "size": 5, "thickness": 1, "clip": true, "opacity": 1},
   "encoding": {"x": {"field": "q", "type": "quantitative", "axis": null}, "y": {"field": "l", "type": "quantitative", "axis": null}, "color": {"field": "s", "type": "nominal"}}},
  {"mark": {"type": "tick", "orient": "horizontal", "size": 5, "thickness": 1, "clip": true, "opacity": 1},
   "encoding": {"x": {"field": "q", "type": "quantitative", "axis": null}, "y": {"field": "h", "type": "quantitative", "axis": null}, "color": {"field": "s", "type": "nominal"}}},
  {"transform": [{"filter": "datum.s=='e'"}], "mark": {"type": "point", "shape": "M-1,0H1M0,-1V1", "filled": false, "size": 49, "strokeWidth": 2, "opacity": 1, "clip": true},
   "encoding": {"x": {"field": "q", "type": "quantitative", "axis": null}, "y": {"field": "y", "type": "quantitative", "axis": null}, "color": {"field": "s", "type": "nominal"}}},
  {"transform": [{"filter": "datum.s=='f'"}], "mark": {"type": "point", "shape": "M-1,-1L1,1M-1,1L1,-1", "filled": false, "size": 49, "strokeWidth": 2, "opacity": 1, "clip": true},
   "encoding": {"x": {"field": "q", "type": "quantitative", "axis": null}, "y": {"field": "y", "type": "quantitative", "axis": null}, "color": {"field": "s", "type": "nominal"}}},
  {"transform": [{"filter": "datum.s=='g'"}], "mark": {"type": "point", "shape": "M-1,0H1M0,-1V1M-1,-1L1,1M-1,1L1,-1", "filled": false, "size": 36, "strokeWidth": 1, "opacity": 1, "clip": true},
   "encoding": {"x": {"field": "q", "type": "quantitative", "axis": null}, "y": {"field": "y", "type": "quantitative", "axis": null}, "color": {"field": "s", "type": "nominal"}}},
  {"transform": [{"filter": "datum.s=='h'"}], "mark": {"type": "point", "shape": "square", "filled": false, "size": 49, "strokeWidth": 1, "opacity": 1, "clip": true},
   "encoding": {"x": {"field": "q", "type": "quantitative", "axis": null}, "y": {"field": "y", "type": "quantitative", "axis": null}, "color": {"field": "s", "type": "nominal"}}},
  {"mark": {"type": "point", "opacity": 0},
   "encoding": {"x": {"field": "q", "type": "quantitative", "axis": {"orient": "top", "values": [4, 8, 16, 32, 64], "labels": false, "title": null}}, "y": {"field": "y", "type": "quantitative", "axis": {"orient": "right", "values": [0, 0.2, 0.4, 0.6, 0.8, 1, 1.2], "labels": false, "title": null}}}}
 ],
 "resolve": {"axis": {"x": "independent", "y": "independent"}}
}
],
"spacing": 179,
"bounds": "flush",
"resolve": {"scale": {"x": "independent", "y": "independent", "color": "independent"}, "legend": {"color": "independent"}}
}
